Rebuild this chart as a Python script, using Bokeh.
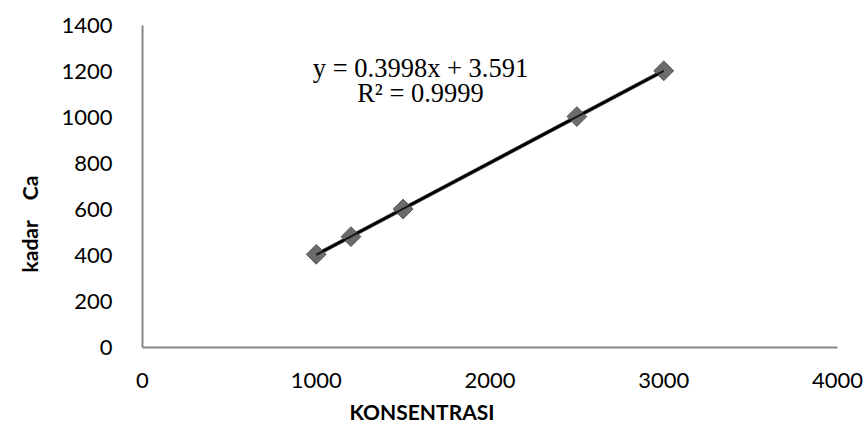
import numpy as np
from bokeh.plotting import figure
from bokeh.models import Label, Title, FixedTicker, Range1d
from bokeh.embed import file_html
from bokeh.resources import INLINE

# data
konsentrasi = [1000, 1200, 1500, 2500, 3000]
kadar_ca = [405, 482, 602, 1004, 1203]
x_ticks = [0, 1000, 2000, 3000, 4000]
y_ticks = [0, 200, 400, 600, 800, 1000, 1200, 1400]
eq_text = "y = 0.3998x + 3.591"
r2_text = "R² = 0.9999"
x_title = "KONSENTRASI"
y_title = "kadar \u00a0 \u00a0Ca"

p = figure(width=865, height=430, output_backend="svg", toolbar_location=None,
           x_range=Range1d(0, 4000), y_range=Range1d(0, 1400),
           min_border_left=142, min_border_right=28, min_border_top=25, min_border_bottom=83)
p.outline_line_color = None
p.grid.visible = False
p.background_fill_color = "white"
p.border_fill_color = "white"

for ax in (p.xaxis[0], p.yaxis[0]):
    ax.axis_line_color = "#868686"
    ax.axis_line_width = 2
    ax.major_tick_line_color = None
    ax.minor_tick_line_color = None
    ax.major_label_text_font = "Lato"
    ax.major_label_text_font_size = "22px"
    ax.major_label_text_color = "black"
p.xaxis.major_label_standoff = 19
p.yaxis.major_label_standoff = 24
p.xaxis.ticker = FixedTicker(ticks=x_ticks)
p.yaxis.ticker = FixedTicker(ticks=y_ticks)

# trendline from least squares
coef = np.polyfit(konsentrasi, kadar_ca, 1)
xs = np.array([min(konsentrasi), max(konsentrasi)])
p.line(xs, np.polyval(coef, xs), line_color="#555555", line_width=4)
p.line(xs, np.polyval(coef, xs), line_color="black", line_width=2.5)

p.scatter(konsentrasi, kadar_ca, marker="square", angle=np.pi / 4, size=14,
          fill_color="#6b6b6b", line_color="#575757")

p.line(xs, np.polyval(coef, xs), line_color="black", line_width=2, line_alpha=0.8)

p.add_layout(Label(x=1600, y=1217, text=eq_text, text_font="Liberation Serif",
                   text_font_size="26.5px", text_align="center", text_baseline="middle",
                   text_color="black"))
p.add_layout(Label(x=1600, y=1106, text=r2_text, text_font="Liberation Serif",
                   text_font_size="26.5px", text_align="center", text_baseline="middle",
                   text_color="black"))

xt = Title(text=x_title, align="left", offset=207, standoff=12, text_font="Lato",
           text_font_size="21px", text_font_style="bold", text_color="black")
p.add_layout(xt, "below")
yt = Title(text=y_title, align="left", offset=75, standoff=30, vertical_align="top",
           text_font="Lato", text_font_size="21px", text_font_style="bold",
           text_color="black")
p.add_layout(yt, "left")

open("out.html", "w").write(file_html(p, INLINE))
